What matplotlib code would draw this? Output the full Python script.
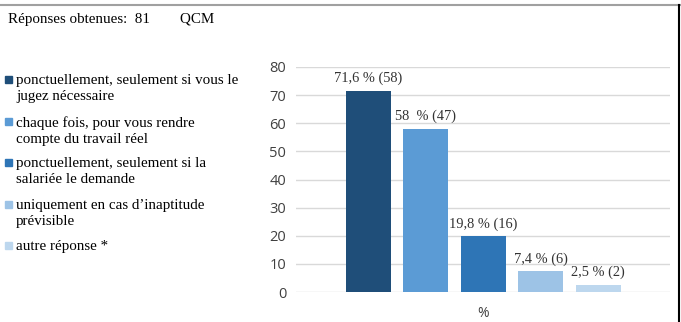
import matplotlib.pyplot as plt
from matplotlib.lines import Line2D
from matplotlib.patches import Rectangle

# donnees
categories = ["ponctuellement, seulement si vous le\njugez nécessaire",
              "chaque fois, pour vous rendre\ncompte du travail réel",
              "ponctuellement, seulement si la\nsalariée le demande",
              "uniquement en cas d\u2019inaptitude\nprévisible",
              "autre réponse *"]
valeurs = [71.6, 58, 19.8, 7.4, 2.5]
etiquettes = ["71,6 % (58)", "58  % (47)", "19,8 % (16)", "7,4 % (6)", "2,5 % (2)"]
couleurs = ["#1F4E79", "#5B9BD5", "#2E75B6", "#9DC3E6", "#BDD7EE"]
yticks = [0, 10, 20, 30, 40, 50, 60, 70, 80]

serif = "Liberation Serif"

fig = plt.figure(figsize=(6.81, 3.22), dpi=100)
ax = fig.add_axes([296/681, 1 - 292/322, 374/681, 225/322])

pos = list(range(len(valeurs)))
ax.bar(pos, valeurs, width=0.78, color=couleurs, zorder=3)
for p, v, t in zip(pos, valeurs, etiquettes):
    ax.text(p, v + 2.0, t, ha="center", va="bottom", fontsize=10.4, family=serif, color="#333333")

ax.set_xlim(-1.26, 5.25)
ax.set_ylim(0, 80)
ax.set_yticks(yticks)
ax.set_xticks([])
ax.yaxis.grid(True, color="#D9D9D9", linewidth=1, zorder=0)
for s in ax.spines.values():
    s.set_visible(False)
ax.tick_params(axis="y", length=0, pad=7, labelsize=10.5, labelcolor="#404040")
for lab in ax.get_yticklabels():
    lab.set_family("Open Sans")
ax.set_xlabel("%", fontsize=10, family="Open Sans", color="#404040", labelpad=10)

# titre
fig.text(8/681, 1 - 19/322, "Réponses obtenues:  81        QCM", fontsize=10.8, family=serif, va="center")

# legende faite a la main
ys = [80, 122, 163, 205, 246]
for y, c, t in zip(ys, couleurs, categories):
    fig.add_artist(Rectangle((5/681, 1 - (y + 3)/322), 7/681, 7/322, color=c, transform=fig.transFigure))
    fig.text(16/681, 1 - (y - 6)/322, t, fontsize=10.8, family=serif, va="top", linespacing=1.32)

# cadre
fig.add_artist(Line2D([0, 1], [1 - 4.5/322, 1 - 4.5/322], color="#A0A0A0", linewidth=1.5, transform=fig.transFigure))
fig.add_artist(Line2D([679/681, 679/681], [0, 1 - 4.5/322], color="black", linewidth=1.5, transform=fig.transFigure))

fig.savefig("out.png", dpi=100)
